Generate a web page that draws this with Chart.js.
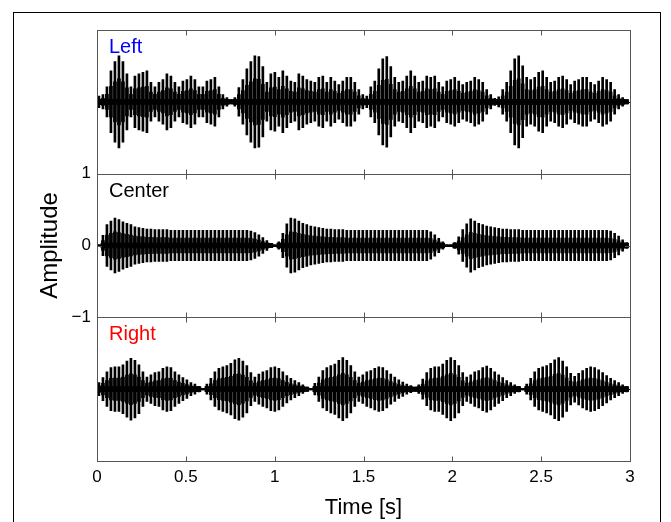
<!DOCTYPE html>
<html>
<head>
<meta charset="utf-8">
<script src="https://cdn.jsdelivr.net/npm/chart.js@4.4.0/dist/chart.umd.min.js"></script>
<style>
  html, body { margin: 0; padding: 0; background: #fff; overflow: hidden; }
</style>
</head>
<body>
<canvas id="chart" width="671" height="522"></canvas>
<script>
// channel names / colours of the three panels (top to bottom)
const channels = ['Left', 'Center', 'Right'];
const channelColors = ['#0000ff', '#000000', '#ff0000'];
const xTicks = [0.5, 1, 1.5, 2, 2.5];
const yTicks = [-1, 0, 1];

// one peak per oscillation, sampled every 22.5 ms
const slotStart = 0.011;
const slotStep = 0.0225;

// peak amplitudes
const leftAmp = [
  0.08,0.10,0.21,0.43,0.56,0.64,0.56,0.39,0.21,0.36,0.39,0.41,0.43,0.27,0.21,0.27,0.31,0.39,0.36,0.27,0.21,0.29,0.31,0.36,0.31,0.21,0.21,0.29,0.31,0.34,0.21,0.10,0.06,
  0.03,
  0.06,0.20,0.31,0.46,0.56,0.64,0.63,0.49,0.27,0.39,0.41,0.34,0.43,0.36,0.29,0.27,0.39,0.36,0.31,0.29,0.27,0.34,0.36,0.27,0.34,0.29,0.24,0.29,0.34,0.34,0.27,0.17,0.10,
  0.08,0.21,0.29,0.46,0.60,0.63,0.49,0.34,0.27,0.29,0.36,0.43,0.36,0.27,0.29,0.36,0.34,0.36,0.27,0.21,0.29,0.31,0.34,0.29,0.24,0.27,0.29,0.34,0.31,0.27,0.17,0.10,0.05,
  0.07,0.17,0.27,0.43,0.60,0.64,0.50,0.34,0.31,0.34,0.41,0.43,0.34,0.27,0.29,0.34,0.36,0.31,0.24,0.29,0.31,0.34,0.34,0.27,0.24,0.29,0.34,0.31,0.27,0.17,0.10,0.06,0.03
];
const centerAmp = [
  0.01,0.14,0.29,0.34,0.38,0.36,0.33,0.31,0.29,0.26,0.25,0.24,0.23,0.23,0.22,0.22,0.22,0.22,
  0.21,0.21,0.21,0.21,0.21,0.21,0.21,0.21,0.21,0.21,0.21,0.21,0.21,0.21,0.21,0.21,0.21,0.21,0.21,0.21,
  0.20,0.18,0.15,0.11,0.07,0.03,
  0.01,
  0.05,0.17,0.30,0.38,0.37,0.34,0.31,0.29,0.27,0.26,0.25,0.24,0.23,0.23,0.22,0.22,0.22,
  0.21,0.21,0.21,0.21,0.21,0.21,0.21,0.21,0.21,0.21,0.21,0.21,0.21,0.21,0.21,0.21,0.21,0.21,0.21,0.21,0.21,
  0.19,0.15,0.10,0.05,
  0.01,0.01,
  0.04,0.12,0.22,0.30,0.37,0.34,0.31,0.29,0.27,0.26,0.25,0.24,0.23,0.23,0.22,0.22,0.22,
  0.21,0.21,0.21,0.21,0.21,0.21,0.21,0.21,0.21,0.21,0.21,0.21,0.21,0.21,0.21,0.21,0.21,0.21,0.21,0.21,0.21,0.21,
  0.20,0.17,0.13,0.08,0.04
];
const rightAmp = [
  0.09,0.16,0.24,0.30,0.31,0.31,0.34,0.39,0.43,0.40,0.34,0.24,0.17,0.20,0.23,0.24,0.29,0.31,0.30,0.24,0.20,0.16,0.13,0.09,0.07,0.04,
  0.01,
  0.07,0.15,0.24,0.29,0.31,0.33,0.36,0.41,0.43,0.39,0.33,0.23,0.17,0.21,0.24,0.26,0.30,0.31,0.29,0.24,0.19,0.15,0.12,0.09,0.06,0.03,
  0.01,
  0.08,0.17,0.26,0.30,0.33,0.35,0.40,0.44,0.40,0.33,0.24,0.17,0.20,0.24,0.26,0.29,0.31,0.30,0.26,0.21,0.17,0.13,0.10,0.07,0.05,0.03,
  0.06,0.14,0.23,0.29,0.31,0.31,0.35,0.40,0.44,0.40,0.33,0.23,0.17,0.20,0.24,0.26,0.30,0.32,0.29,0.24,0.20,0.16,0.12,0.09,0.06,0.04,
  0.01,
  0.07,0.15,0.24,0.29,0.31,0.33,0.36,0.41,0.44,0.39,0.31,0.22,0.18,0.22,0.26,0.29,0.31,0.30,0.27,0.23,0.19,0.15,0.12,0.09,0.06,0.04
];

const amps = [leftAmp, centerAmp, rightAmp];
const axisIds = ['yL', 'yC', 'yR'];
const FONT = "'Liberation Sans', Arial, sans-serif";

// each oscillation is drawn as a tapered spike: full peak thin, half height wider, a thin core band
const layers = [
  { share: 1.0, cap: 1, width: 2 },
  { share: 0.5, cap: 1, width: 3 },
  { share: 1.0, cap: 0.035, width: 4 }
];

const datasets = [];
amps.forEach((amp, k) => {
  layers.forEach(layer => {
    datasets.push({
      data: amp.map((a, i) => {
        const h = Math.min(a * layer.share, layer.cap);
        return { x: slotStart + i * slotStep, y: [-h, h] };
      }),
      yAxisID: axisIds[k], backgroundColor: '#000', barThickness: layer.width, grouped: false
    });
  });
});

function panelAxis(showLabels) {
  return {
    type: 'linear', min: -1, max: 1, position: 'left', stack: 'panels', stackWeight: 1,
    grid: { display: false, drawTicks: false }, border: { display: false },
    ticks: {
      display: showLabels, stepSize: 1, padding: 6, color: '#000', font: { family: FONT, size: 17 },
      callback: v => v < 0 ? '\u2212' + Math.abs(v) : String(v)
    },
    title: { display: showLabels, text: 'Amplitude', color: '#000', font: { family: FONT, size: 24 }, padding: { top: 36, bottom: 0 } },
    afterFit: s => { s.width = 97; }
  };
}

const framePlugin = {
  id: 'frame',
  beforeDraw(chart) {
    const ctx = chart.ctx;
    ctx.save();
    ctx.fillStyle = '#fff';
    ctx.fillRect(0, 0, chart.width, chart.height);
    ctx.strokeStyle = '#000';
    ctx.lineWidth = 1;
    ctx.strokeRect(13.5, 12.5, 647, 530);
    ctx.restore();
  },
  beforeDatasetsDraw(chart) {
    const ctx = chart.ctx, area = chart.chartArea;
    ctx.save();
    ctx.strokeStyle = '#000';
    ctx.lineWidth = 1;
    axisIds.forEach(id => {
      const y = Math.round(chart.scales[id].getPixelForValue(0)) + 0.5;
      ctx.beginPath();
      ctx.moveTo(area.left, y);
      ctx.lineTo(area.right, y);
      ctx.stroke();
    });
    ctx.restore();
  },
  afterDraw(chart) {
    const ctx = chart.ctx, area = chart.chartArea, xs = chart.scales.x;
    ctx.save();
    ctx.strokeStyle = '#555';
    ctx.lineWidth = 1;
    axisIds.forEach((id, k) => {
      const s = chart.scales[id];
      const top = Math.round(s.top) + 0.5, bot = Math.round(s.bottom) + 0.5;
      ctx.strokeRect(Math.round(area.left) + 0.5, top, Math.round(area.right - area.left), bot - top);
      ctx.beginPath();
      xTicks.forEach(t => {
        const x = Math.round(xs.getPixelForValue(t)) + 0.5;
        ctx.moveTo(x, top); ctx.lineTo(x, top + 5);
        ctx.moveTo(x, bot); ctx.lineTo(x, bot - 5);
      });
      if (id === 'yC') {
        yTicks.forEach(v => {
          const y = Math.round(s.getPixelForValue(v)) + 0.5;
          ctx.moveTo(area.left, y); ctx.lineTo(area.left + 5, y);
          ctx.moveTo(area.right, y); ctx.lineTo(area.right - 5, y);
        });
      }
      ctx.stroke();
      ctx.fillStyle = channelColors[k];
      ctx.font = '20px ' + FONT;
      ctx.textAlign = 'left';
      ctx.textBaseline = 'alphabetic';
      ctx.fillText(channels[k], area.left + 12, s.top + 23);
    });
    ctx.restore();
  }
};

new Chart(document.getElementById('chart'), {
  type: 'bar',
  data: { datasets },
  options: {
    responsive: false,
    devicePixelRatio: 1,
    animation: false,
    layout: { padding: { left: 0, top: 30, right: 41, bottom: 0 } },
    plugins: { legend: { display: false }, tooltip: { enabled: false } },
    elements: { bar: { borderWidth: 0 } },
    scales: {
      x: {
        type: 'linear', min: 0, max: 3, position: 'bottom', offset: false,
        grid: { display: false, drawTicks: false, offset: false }, border: { display: false },
        ticks: {
          stepSize: 0.5, autoSkip: false, maxRotation: 0, padding: 6, color: '#000', font: { family: FONT, size: 17 },
          callback: v => String(v)
        },
        title: { display: true, text: 'Time [s]', color: '#000', font: { family: FONT, size: 22 }, padding: { top: 0, bottom: 1 } },
        afterFit: s => { s.height = 61; }
      },
      yR: panelAxis(false),
      yC: panelAxis(true),
      yL: panelAxis(false)
    }
  },
  plugins: [framePlugin]
});
</script>
</body>
</html>
